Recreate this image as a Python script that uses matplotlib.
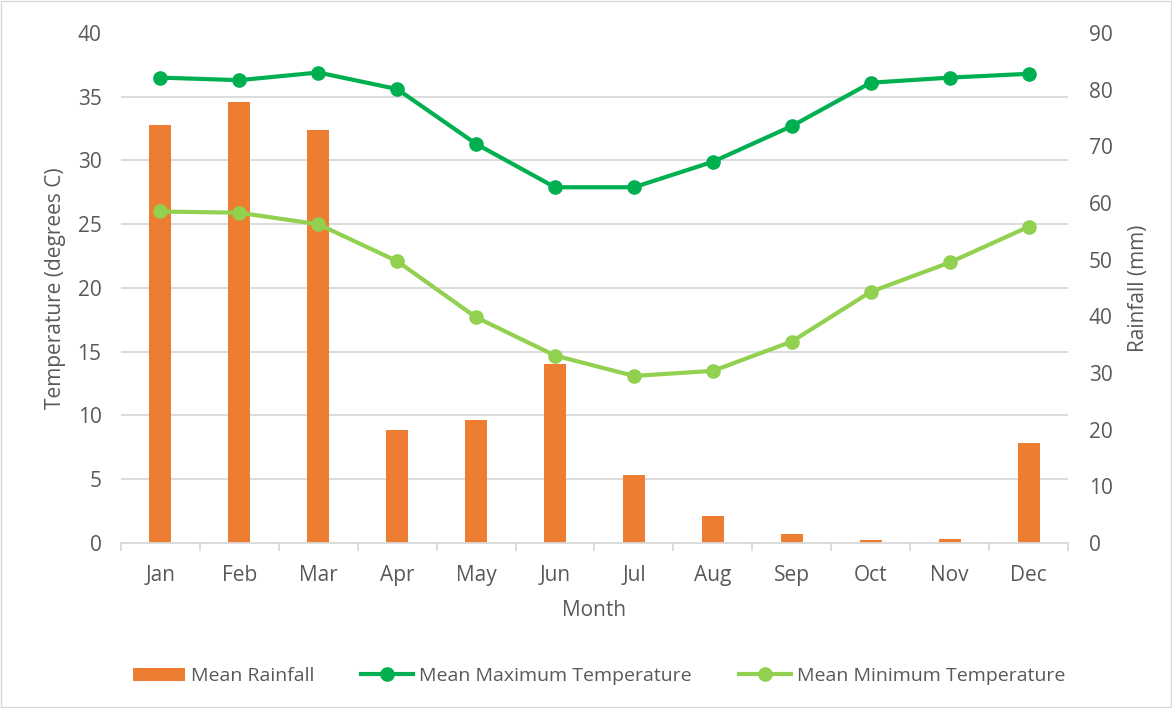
import matplotlib
matplotlib.use("Agg")
import matplotlib.pyplot as plt
import numpy as np
from matplotlib.lines import Line2D
from matplotlib.patches import Patch

months = ["Jan", "Feb", "Mar", "Apr", "May", "Jun", "Jul", "Aug", "Sep", "Oct", "Nov", "Dec"]
rainfall = [73.8, 77.9, 72.9, 20.0, 21.7, 31.6, 12.0, 4.7, 1.5, 0.5, 0.65, 17.7]
max_temp = [36.5, 36.3, 36.9, 35.6, 31.3, 27.9, 27.9, 29.9, 32.7, 36.1, 36.5, 36.8]
min_temp = [26.0, 25.9, 25.0, 22.1, 17.7, 14.7, 13.1, 13.5, 15.8, 19.7, 22.0, 24.8]
temp_ticks = [0, 5, 10, 15, 20, 25, 30, 35, 40]
rain_ticks = [0, 10, 20, 30, 40, 50, 60, 70, 80, 90]

plt.rcParams['font.family'] = ['Open Sans', 'DejaVu Sans']
TXT = '#595959'
GRID = '#d9d9d9'
ORANGE = '#ED7D31'
DGREEN = '#00B050'
LGREEN = '#92D050'
FS = 15

fig = plt.figure(figsize=(11.72, 7.08), dpi=100)
ax1 = fig.add_axes([0.1032, 0.2331, 0.8081, 0.7203])  # temperature (left)
ax2 = ax1.twinx()  # rainfall (right)
ax2.set_zorder(1)
ax1.set_zorder(2)
ax1.patch.set_visible(False)

x = np.arange(len(months))

# bars on rainfall axis
ax2.bar(x, rainfall, width=0.28, color=ORANGE, zorder=3)
ax2.set_ylim(0, 90)
ax2.set_yticks(rain_ticks)
# gridlines aligned with temperature ticks, drawn beneath bars
ax2.set_yticks([t * 90 / 40 for t in temp_ticks], minor=True)
ax2.grid(True, which='minor', axis='y', color=GRID, linewidth=1.3, zorder=0)
ax2.tick_params(axis='y', which='minor', length=0)
ax2.tick_params(axis='y', which='major', length=0, labelsize=FS, labelcolor=TXT, pad=15)
ax2.set_ylabel('Rainfall (mm)', fontsize=FS, color=TXT, labelpad=11)

# lines on temperature axis
ax1.plot(x, max_temp, color=DGREEN, linewidth=3, marker='o', markersize=9.5, zorder=4)
ax1.plot(x, min_temp, color=LGREEN, linewidth=3, marker='o', markersize=9.5, zorder=4)
ax1.set_ylim(0, 40)
ax1.set_yticks(temp_ticks)
ax1.tick_params(axis='y', length=0, labelsize=FS, labelcolor=TXT, pad=14)
ax1.set_ylabel('Temperature (degrees C)', fontsize=FS, color=TXT, labelpad=8)

ax1.set_xlim(-0.5, len(months) - 0.5)
ax1.set_xticks(np.arange(-0.5, len(months), 1.0))
ax1.set_xticklabels([])
ax1.set_xticks(x, minor=True)
ax1.set_xticklabels(months, minor=True)
ax1.tick_params(axis='x', which='major', length=6, color=GRID, width=1.3)
ax1.tick_params(axis='x', which='minor', length=0, labelsize=FS, labelcolor=TXT, pad=16)
ax1.set_xlabel('Month', fontsize=FS, color=TXT, labelpad=10)

for a in (ax1, ax2):
    for s in ('top', 'left', 'right'):
        a.spines[s].set_visible(False)
    a.spines['bottom'].set_color(GRID)
    a.spines['bottom'].set_linewidth(1.3)
ax2.spines['bottom'].set_visible(False)

handles = [
    Patch(facecolor=ORANGE, edgecolor='none'),
    Line2D([0], [0], color=DGREEN, linewidth=3, marker='o', markersize=9.5),
    Line2D([0], [0], color=LGREEN, linewidth=3, marker='o', markersize=9.5),
]
labels = ['Mean Rainfall', 'Mean Maximum Temperature', 'Mean Minimum Temperature']
leg = fig.legend(handles, labels, loc='center', bbox_to_anchor=(0.511, 0.045), ncol=3,
                 frameon=False, fontsize=14, handlelength=2.7, handletextpad=0.3,
                 columnspacing=2.4)
for t in leg.get_texts():
    t.set_color(TXT)

# light chart border
fig.patches.append(plt.Rectangle((0.001, 0.001), 0.998, 0.998, transform=fig.transFigure,
                                 fill=False, edgecolor=GRID, linewidth=1))

fig.savefig('out.png', dpi=100)
